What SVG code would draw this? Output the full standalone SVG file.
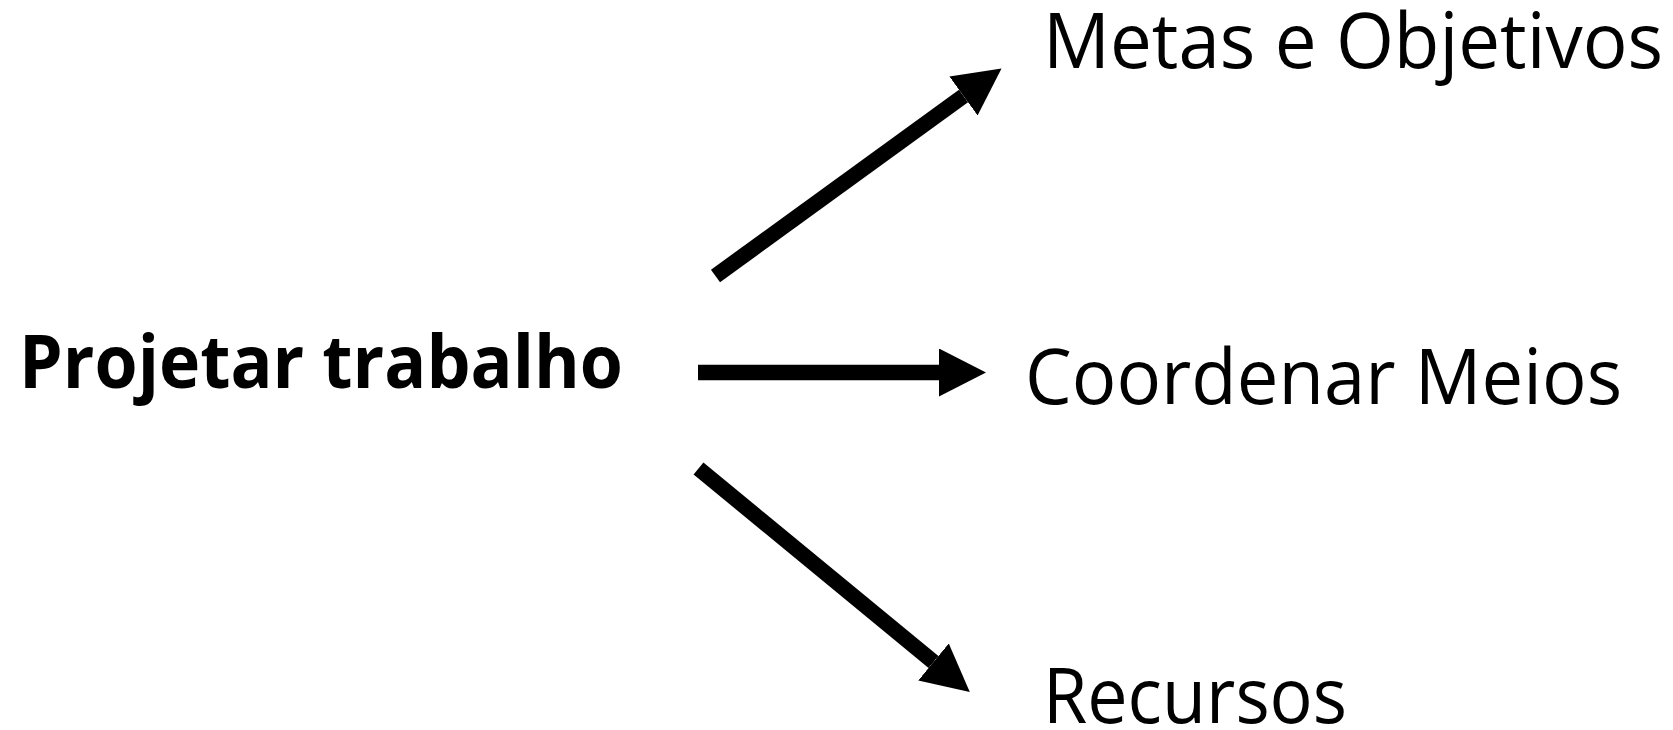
<svg xmlns="http://www.w3.org/2000/svg" width="1673" height="730" viewBox="0 0 1673 730">
<style>
.lbl{font-family:"Open Sans","Noto Sans","Liberation Sans",sans-serif;font-size:76px;fill:#000}
.bold{font-weight:bold;font-size:73px}
.conn{stroke:#000;stroke-width:15.5;fill:none;stroke-linecap:butt}
</style>
<defs>
<marker id="head" markerUnits="userSpaceOnUse" viewBox="0 0 47 48" markerWidth="47" markerHeight="48" refX="0" refY="24" orient="auto">
<path d="M0,0 L47,24 L0,48 z" fill="#000"/>
</marker>
</defs>
<rect width="1673" height="730" fill="#fff"/>
<g id="connectors">
<line class="conn" x1="715.5" y1="276" x2="963.5" y2="96" marker-end="url(#head)"/>
<line class="conn" x1="698" y1="372.5" x2="939" y2="372.5" marker-end="url(#head)"/>
<line class="conn" x1="698.5" y1="468.5" x2="933.5" y2="662" marker-end="url(#head)"/>
</g>
<g id="node-projetar">
<text class="lbl bold" x="19" y="388" textLength="604" lengthAdjust="spacingAndGlyphs">Projetar trabalho</text>
</g>
<g id="node-metas">
<text class="lbl" x="1043" y="68" textLength="620" lengthAdjust="spacingAndGlyphs">Metas e Objetivos</text>
</g>
<g id="node-coordenar">
<text class="lbl" x="1025" y="404" textLength="597" lengthAdjust="spacingAndGlyphs">Coordenar Meios</text>
</g>
<g id="node-recursos">
<text class="lbl" x="1043" y="723" textLength="304" lengthAdjust="spacingAndGlyphs">Recursos</text>
</g>
</svg>
